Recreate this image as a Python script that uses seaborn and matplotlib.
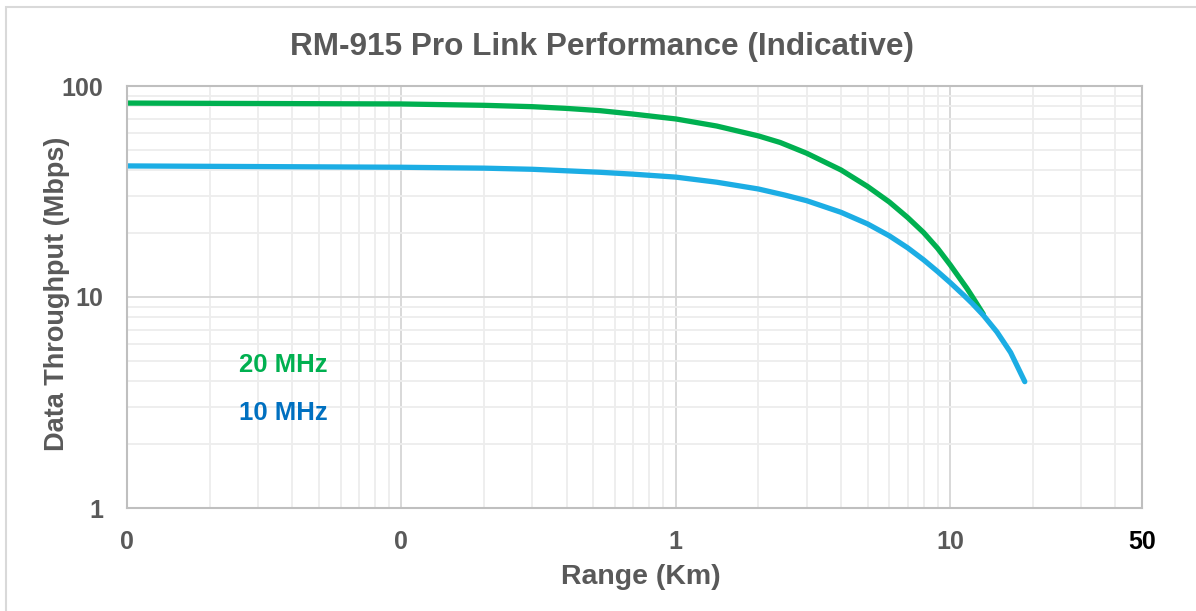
import pandas as pd
import numpy as np
import matplotlib
matplotlib.use("Agg")
import matplotlib.pyplot as plt
import matplotlib.ticker as mticker
from matplotlib.patches import Rectangle
import seaborn as sns

# DATA
range_20mhz = [0.01, 0.1, 0.2, 0.3, 0.4, 0.53, 0.7, 1, 1.41, 2, 2.4, 3, 4, 5, 6, 7, 8, 9, 10, 11.5, 12, 13.2]
thr_20mhz = [83, 82.2, 81, 79.8, 78.3, 76.4, 73.6, 69.8, 64.6, 58.0, 54, 48, 40, 33.4, 28.2, 23.8, 20.2, 17, 14.2, 11.0, 10.1, 8.3]

range_10mhz = [0.01, 0.1, 0.2, 0.3, 0.53, 0.7, 1, 1.41, 2, 2.5, 3, 4, 5, 6, 7, 8, 9, 10, 11.2, 12, 13.2, 14.8, 16.6, 18.7]
thr_10mhz = [41.8, 41.2, 40.8, 40.3, 39.0, 38.2, 37.0, 35.0, 32.5, 30.4, 28.6, 25.2, 22.2, 19.5, 17.1, 15.0, 13.2, 11.7, 10.2, 9.35, 8.2, 6.83, 5.46, 3.97]

x_ticks = [0.01, 0.1, 1, 10, 50]
x_tick_labels = ["0", "0", "1", "10", "50"]
y_ticks = [1, 10, 100]
y_tick_labels = ["1", "10", "100"]

GREEN = "#00b050"
BLUE = "#1cade4"
BLUE_TXT = "#0070c0"
GREY = "#595959"

df20 = pd.DataFrame({"Range": range_20mhz, "Throughput": thr_20mhz})
df10 = pd.DataFrame({"Range": range_10mhz, "Throughput": thr_10mhz})

sns.set_style("white")
plt.rcParams['font.family'] = ['Liberation Sans', 'DejaVu Sans']

fig = plt.figure(figsize=(11.96, 6.11), dpi=100)
ax = fig.add_axes([127 / 1196, 1 - 508 / 611, (1142 - 127) / 1196, (508 - 86) / 611])

sns.lineplot(data=df20, x="Range", y="Throughput", color=GREEN, lw=3.8, ax=ax,
             solid_capstyle="round", solid_joinstyle="round")
sns.lineplot(data=df10, x="Range", y="Throughput", color=BLUE, lw=3.8, ax=ax,
             solid_capstyle="round", solid_joinstyle="round")

ax.set_xscale("log")
ax.set_yscale("log")
ax.set_xlim(0.01, 50)
ax.set_ylim(1, 100)

# grid
ax.xaxis.set_minor_locator(mticker.LogLocator(base=10, subs=np.arange(2, 10)))
ax.yaxis.set_minor_locator(mticker.LogLocator(base=10, subs=np.arange(2, 10)))
ax.xaxis.set_minor_formatter(mticker.NullFormatter())
ax.yaxis.set_minor_formatter(mticker.NullFormatter())
ax.set_xticks(x_ticks)
ax.set_xticklabels(x_tick_labels)
ax.set_yticks(y_ticks)
ax.set_yticklabels(y_tick_labels)
ax.grid(which="minor", color="#ededed", lw=1.3)
ax.grid(which="major", color="#d6d6d6", lw=1.3)
ax.set_axisbelow(True)

for s in ax.spines.values():
    s.set_color("#bfbfbf")
    s.set_linewidth(1.5)

ax.tick_params(axis="both", which="major", length=0, labelsize=18, labelcolor=GREY)
ax.tick_params(axis="x", which="major", pad=16)
ax.tick_params(axis="y", which="major", pad=17)
ax.tick_params(axis="x", which="minor", direction="in", length=4, color="#bfbfbf", width=1.2)
ax.tick_params(axis="y", which="minor", length=0)
for lab in ax.get_xticklabels():
    lab.set_fontweight("bold")
ax.get_xticklabels()[-1].set_color("black")
for lab in ax.get_yticklabels():
    lab.set_fontweight("bold")

ax.set_xlabel("Range (Km)", fontsize=20.5, fontweight="bold", color=GREY, va="center")
ax.set_ylabel("Data Throughput (Mbps)", fontsize=19.5, fontweight="bold", color=GREY, va="center")
ax.xaxis.set_label_coords(0.5 + 6 / 1015, -(577 - 508) / 422)
ax.yaxis.set_label_coords(-(127 - 57) / 1015, (508 - 294) / 422)

ax.text(0.0256, 4.76, "20 MHz", color=GREEN, fontsize=18.5, fontweight="bold", va="center", ha="left")
ax.text(0.0256, 2.82, "10 MHz", color=BLUE_TXT, fontsize=18.5, fontweight="bold", va="center", ha="left")

fig.text(602 / 1196, 1 - 47 / 611, "RM-915 Pro Link Performance (Indicative)",
         fontsize=22.7, fontweight="bold", color=GREY, ha="center", va="center")

# outer chart border
fig.patches.append(Rectangle((6 / 1196, -0.05), 1.2, 1 - 7 / 611 + 0.05, transform=fig.transFigure,
                             fill=False, edgecolor="#d9d9d9", lw=1.5))

fig.savefig("out.png", dpi=100)
